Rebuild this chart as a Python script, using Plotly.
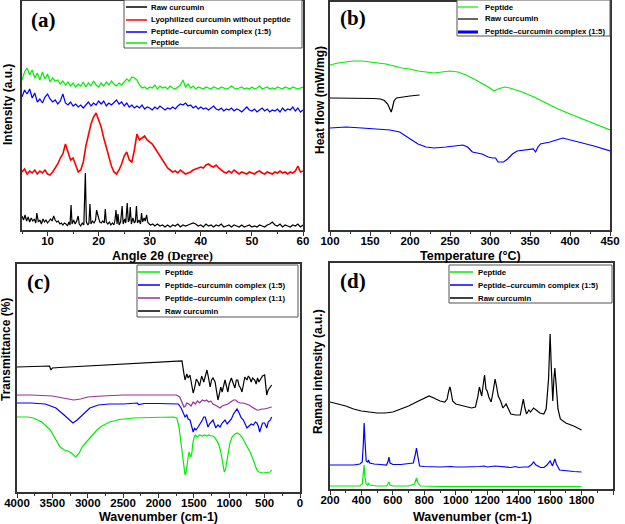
import plotly.graph_objects as go

W, H = 625, 524

# ---------------- (a) XRD ----------------
xrd_angle = [5 + 0.5 * i for i in range(111)]
xrd_peptide = [150,158,162,155,160,152,157,150,158,151,156,148,152,149,150,146,149,145,148,144,147,143,146,144,148,143,147,144,149,145,143,147,144,148,145,149,146,144,147,145,148,151,149,153,152,150,145,142,143,141,143,142,145,141,144,142,143,141,144,142,141,143,145,150,143,146,142,144,141,143,142,141,143,142,141,143,142,141,143,142,141,142,144,142,141,142,143,141,142,141,143,141,142,144,141,142,143,141,142,141,143,142,141,143,142,141,143,142,141,142,143]
xrd_complex = [133,140,136,141,132,137,128,131,127,133,136,131,128,130,126,129,136,127,125,128,124,126,123,125,122,125,128,124,127,125,129,126,129,124,127,125,128,130,126,128,124,127,123,125,122,124,122,125,121,123,122,120,123,121,124,122,120,122,121,123,121,124,126,125,127,124,125,122,124,121,123,121,122,120,122,124,121,120,122,119,121,120,122,119,121,120,118,121,123,120,119,121,118,120,122,119,121,118,120,119,121,118,122,119,121,120,123,119,122,118,120]
xrd_lyo = [58,61,56,59,57,60,56,59,57,60,56,55,58,62,66,72,76,86,78,70,72,64,58,60,68,84,96,106,113,117,110,103,92,82,72,64,58,56,60,66,74,78,70,68,80,96,90,92,94,90,88,86,82,78,74,70,66,62,60,58,59,57,60,58,56,57,58,60,61,62,63,62,65,66,64,63,65,62,60,58,57,59,57,60,58,56,58,57,56,58,57,56,58,59,57,56,58,57,56,58,57,59,57,58,56,58,57,59,64,58,59]
raw_angle = [5.0,5.3,5.6,5.9,6.2,6.5,6.8,7.1,7.4,7.7,7.9,8.2,8.5,8.8,9.1,9.4,9.7,10.0,10.3,10.6,10.9,11.2,11.5,11.8,12.1,12.4,12.7,13.0,13.3,13.6,13.9,14.2,14.4,14.6,14.8,15.1,15.4,15.7,16.0,16.2,16.5,16.8,17.1,17.4,17.6,17.9,18.1,18.3,18.5,18.8,19.1,19.4,19.6,19.9,20.2,20.5,20.8,21.1,21.3,21.5,21.8,22.1,22.4,22.7,23.0,23.2,23.4,23.6,23.8,24.0,24.3,24.6,24.8,25.1,25.3,25.6,25.8,26.0,26.2,26.4,26.7,27.0,27.2,27.4,27.6,27.9,28.2,28.4,28.6,28.9,29.1,29.4,29.6,29.9,30.2,30.6,31.0,31.5,32.0,32.5,33.0,33.5,34.0,34.5,35.0,35.5,36.0,36.5,37.0,37.5,38.0,38.5,39.0,39.5,40.0,40.5,41.0,41.5,42.0,42.5,43.0,43.5,44.0,44.5,45.0,45.5,46.0,46.5,47.0,47.5,48.0,48.5,49.0,49.5,50.0,50.5,51.0,51.5,52.0,52.5,53.0,53.5,54.0,54.5,55.0,55.5,56.0,56.5,57.0,57.5,58.0,58.5,59.0,59.5,60.0]
raw_xrd = [14,10,15,9,13,8,12,9,11,7,17,8,10,6,11,8,10,7,9,11,9,14,10,8,9,6,7,5,7,6,4,8,5,25,6,10,6,9,14,6,4,7,5,57,8,5,7,26,6,9,7,10,20,12,8,7,9,7,21,8,6,8,5,7,5,10,20,6,16,5,8,24,6,11,7,27,8,10,23,6,12,7,9,24,7,10,6,17,8,12,9,15,8,6,5,6,4,6,4,5,3,5,3,5,4,6,3,5,4,5,6,7,6,4,5,3,6,4,5,3,5,4,6,3,4,5,3,5,4,3,5,3,4,5,3,4,3,5,4,3,5,6,8,5,4,6,3,5,4,3,5,4,6,3,5]

# ---------------- (b) DSC ----------------
dsc_pep_t = [100,110,120,130,140,150,160,170,180,190,200,210,220,230,240,250,260,270,280,290,298,305,310,318,325,340,355,370,385,400,415,430,440,450]
dsc_pep = [165,167,168,169,169,168,167,166,164,162,161,159,158,157,158,159,158,155,151,147,143,139,141,143,142,138,133,127,121,116,111,106,103,100]
dsc_raw_t = [100,120,140,155,163,168,172,175,176.5,178,180,183,190,200,212]
dsc_raw = [132,132,132,131.5,131,129.5,126,120,118,122,129,132,133,134,135]
dsc_cx_t = [100,120,140,160,175,187,195,203,210,220,230,245,258,266,272,278,290,298,303,307,310,317,322,328,334,345,354,357,360,363,375,391,410,430,450]
dsc_cx = [102,103,102,101,100,98,94,90,86,83,82,83,84,85,83,78,76,73,72,72,68,68,71,76,79,80,81,78,83,86,88,92,88,84,79]

# ---------------- (c) FTIR ----------------
ftir_raw_w = [4000,3800,3600,3540,3520,3500,3400,3000,2500,2000,1700,1668,1640,1625,1600,1580,1555,1530,1510,1490,1465,1440,1420,1390,1360,1330,1315,1295,1270,1250,1230,1200,1180,1160,1140,1120,1100,1080,1060,1040,1020,1000,970,950,920,900,880,860,840,820,800,780,750,730,710,690,670,640,620,600,580,560,530,500,480,470,450,420,400]
ftir_raw = [125,125.5,126,126,122,124,124.5,126,128,130,131,131,118,112,118,114,117,106,99,104,113,110,106,116,110,118,122,115,105,112,114,110,100,92,98,105,100,108,112,106,100,108,114,110,104,112,112,106,104,100,108,115,112,116,114,110,114,112,108,114,110,112,116,117,104,97,102,105,107]
ftir_11_w = [4000,3800,3500,3350,3200,3100,3000,2800,2500,2000,1750,1700,1670,1640,1620,1600,1570,1540,1510,1480,1450,1420,1380,1350,1320,1290,1260,1230,1200,1160,1130,1100,1060,1020,980,940,910,880,840,800,760,720,680,640,610,580,540,500,450,400]
ftir_11 = [97,97,96,94,92,93,95,96,97,97,97,95,89,85,86,89,88,86,90,88,91,89,92,91,92,90,91,88,87,85,84,86,87,88,90,92,92,90,89,89,88,87,85,83,82,82,83,83,84,85]
ftir_15_w = [4000,3800,3600,3450,3350,3250,3210,3150,3050,2970,2850,2700,2500,2300,2280,2200,2000,1800,1720,1680,1650,1625,1600,1580,1555,1530,1510,1490,1470,1440,1410,1380,1360,1340,1320,1300,1280,1250,1230,1210,1190,1160,1130,1100,1080,1060,1030,1000,970,940,920,890,860,830,800,770,750,720,690,660,630,610,590,570,550,530,500,470,450,420,400]
ftir_15 = [89,89,88,84,78,72,69,72,79,84,87,88,88,89,87.5,88.5,88.5,88.5,88,84,79,75,77,73,72,66,60,64,62,65,68,72,75,75,70,65,68,71,72,68,64,67,65,69,71,72,68,70,73,78,80,83,79,74,72,67,64,66,68,67,70,69,66,60,65,69,69,64,70,72,75]
ftir_pep_w = [4000,3850,3770,3650,3530,3450,3390,3330,3280,3230,3170,3120,3080,3020,2970,2920,2870,2800,2690,2550,2360,2100,1900,1790,1740,1710,1680,1655,1640,1625,1610,1600,1585,1570,1555,1540,1525,1515,1495,1480,1450,1420,1380,1350,1320,1290,1260,1230,1200,1170,1150,1120,1100,1085,1070,1055,1040,1020,990,960,920,890,860,820,780,750,700,660,630,610,580,520,470,420,400]
ftir_pep = [75,75,74,70,62,52,45,42,41,39,35,39,45,50,54,58,62,66,70,72.5,74,74.5,75,75,74,65,48,32,22,17,20,26,36,40,37,35,41,49,55,57,55,57,56,57,56,57,56,56,54,50,48,40,32,24,20,22,29,38,49,55,58,59,58,55,50,45,39,32,26,22,20,19,19.5,20,22]

# ---------------- (d) Raman ----------------
ram_raw_w = [200,250,300,350,400,450,500,550,600,650,700,750,800,830,860,900,930,945,955,963,970,980,1000,1050,1100,1125,1140,1150,1158,1165,1175,1183,1192,1200,1210,1225,1238,1250,1260,1270,1285,1300,1320,1335,1350,1380,1410,1422,1430,1438,1450,1465,1475,1495,1510,1535,1560,1575,1590,1600,1608,1617,1624,1630,1638,1650,1665,1700,1750,1800]
ram_raw = [87,85,83,80,78,77,76,76,77,80,83,87,91,93,91,88,87,90,98,102,97,88,85,83,81,82,92,102,95,93,105,114,100,98,92,87,98,110,102,93,88,81,85,80,75,74,74,84,90,82,75,79,77,81,79,76,75,80,110,155,120,88,110,121,105,80,70,66,63,59]
ram_cx_w = [200,250,300,350,390,405,412,417,422,430,440,445,452,480,520,560,570,575,582,600,650,700,730,742,750,757,770,800,850,900,970,1000,1050,1100,1150,1180,1200,1250,1300,1350,1380,1400,1430,1460,1480,1495,1510,1540,1560,1580,1600,1610,1615,1630,1640,1660,1700,1750,1800]
ram_cx = [24,24,24.5,24,25,27,45,66,50,28,27,29,26,25,24.5,24,28,32,26,24.5,24.5,25,26,34,41,34,23,22.5,22,22,22.5,22,22,22,22.5,23,22,23,22,21.5,22.5,21.5,22,22,24,27,24,21.5,21.5,24,28,24,23,30,25,19,18,17.5,17]
ram_pep_w = [200,300,390,405,412,417,422,430,440,445,452,500,560,570,575,582,600,700,738,750,760,775,900,1200,1500,1800]
ram_pep = [3,3,3,5,15,24,12,5,4,6,4,3,3,5,7,4,3,3,5,11,6,3,2.5,2.5,2.5,2.5]

GREEN, RED, BLUE, BLACK, PURPLE = "#00ee00", "#ff0000", "#0000ff", "#000000", "#9a2f9a"

SANS = "Liberation Sans, Arial, sans-serif"
SERIF = "Liberation Serif, Times New Roman, serif"

fig = go.Figure()

def add(x, y, color, xa, ya, width=1.2):
    fig.add_trace(go.Scatter(x=x, y=y, mode="lines", line=dict(color=color, width=width),
                             xaxis=xa, yaxis=ya, showlegend=False, hoverinfo="skip"))

add(raw_angle, raw_xrd, BLACK, "x", "y")
add(xrd_angle, xrd_lyo, RED, "x", "y", 1.6)
add(xrd_angle, xrd_complex, BLUE, "x", "y")
add(xrd_angle, xrd_peptide, GREEN, "x", "y")

add(dsc_pep_t, dsc_pep, GREEN, "x2", "y2")
add(dsc_raw_t, dsc_raw, BLACK, "x2", "y2")
add(dsc_cx_t, dsc_cx, BLUE, "x2", "y2")

add(ftir_raw_w, ftir_raw, BLACK, "x3", "y3")
add(ftir_11_w, ftir_11, PURPLE, "x3", "y3")
add(ftir_15_w, ftir_15, BLUE, "x3", "y3")
add(ftir_pep_w, ftir_pep, GREEN, "x3", "y3")

add(ram_raw_w, ram_raw, BLACK, "x4", "y4")
add(ram_cx_w, ram_cx, BLUE, "x4", "y4")
add(ram_pep_w, ram_pep, GREEN, "x4", "y4")

def px2x(p):
    return p / W

def px2y(p):
    return 1 - p / H

panels = {
    "a": dict(x=(22, 303), y=(1, 230), xr=[5, 60], dt=10, minor=5, yr=[0, 229]),
    "b": dict(x=(330, 610), y=(2, 230), xr=[100, 450], dt=50, minor=25, yr=[0, 228]),
    "c": dict(x=(17, 300), y=(264, 492), xr=[4000, 0], dt=500, minor=250, yr=[0, 228]),
    "d": dict(x=(330, 613), y=(263, 489), xr=[200, 2000], dt=200, minor=100, yr=[0, 226]),
}
axline = "#333333"
for i, k in enumerate(["a", "b", "c", "d"]):
    p = panels[k]
    sfx = "" if i == 0 else str(i + 1)
    fig.layout["xaxis" + sfx] = dict(
        domain=[px2x(p["x"][0]), px2x(p["x"][1])], range=p["xr"], anchor="y" + sfx,
        automargin=False,
        showline=True, linecolor=axline, linewidth=1.5, mirror=True, showgrid=False, zeroline=False,
        ticks="outside", ticklen=4, tickwidth=1, tickcolor=axline, dtick=p["dt"], tick0=0,
        minor=dict(ticks="outside", ticklen=2, dtick=p["minor"], tickcolor=axline),
        ticklabelstandoff=-5,
        tickfont=dict(family=SANS, size=11.5, color="black", weight="bold"))
    fig.layout["yaxis" + sfx] = dict(
        domain=[px2y(p["y"][1]), px2y(p["y"][0])], range=p["yr"], anchor="x" + sfx,
        automargin=False,
        showline=True, linecolor=axline, linewidth=1.5, mirror=True, showgrid=False, zeroline=False,
        showticklabels=False, ticks="")

annotations = []
def txt(text, x, y, size, family=SANS, angle=0, xanchor="center", color="black"):
    annotations.append(dict(text=text, x=px2x(x), y=px2y(y), xref="paper", yref="paper",
                            showarrow=False, xanchor=xanchor, yanchor="middle", textangle=angle,
                            font=dict(family=family, size=size, color=color)))

# panel labels
txt("<b>(a)</b>", 43, 20, 21, SERIF)
txt("<b>(b)</b>", 353, 18, 21, SERIF)
txt("<b>(c)</b>", 38, 282, 21, SERIF)
txt("<b>(d)</b>", 353, 281, 21, SERIF)

# axis titles
txt("<b>Angle 2θ </b><span style='font-family:Liberation Serif'><b>(Degree)</b></span>", 163, 256, 12.5)
txt("<b>Intensity (a.u.)</b>", 8, 105, 12, angle=-90)
txt("<b>Temperature (°C)</b>", 470, 256, 12.5)
txt("<b>Heat flow (mW/mg)</b>", 320, 100, 12, angle=-90)
txt("<b>Wavenumber (cm-1)</b>", 158, 517, 12.5)
txt("<b>Transmittance (%)</b>", 6, 350, 12, angle=-90)
txt("<b>Wavenumber (cm-1)</b>", 472, 517, 12.5)
txt("<b>Raman intensity (a.u.)</b>", 318, 372, 12, angle=-90)

# legends drawn as boxes with line samples
shapes = []
legends = [
    dict(box=(124, 0, 302, 48), line=(126, 147), tx=149, ys=[7, 20, 32, 43],
         names=["Raw curcumin", "Lyophilized curcumin without peptide", "Peptide\u2013curcumin complex (1:5)", "Peptide"],
         colors=[BLACK, RED, BLUE, GREEN], widths=[1.5, 1.5, 1.5, 1.5]),
    dict(box=(457, 0, 610, 36), line=(458, 478), tx=483, ys=[7, 19, 32],
         names=["Peptide", "Raw curcumin", "Peptide\u2013curcumin complex (1:5)"],
         colors=[GREEN, BLACK, BLUE], widths=[1.2, 1.2, 3]),
    dict(box=(137, 265, 298, 317), line=(138, 160), tx=163, ys=[272, 285, 298, 311],
         names=["Peptide", "Peptide\u2013curcumin complex (1:5)", "Peptide\u2013curcumin complex (1:1)", "Raw curcumin"],
         colors=[GREEN, BLUE, PURPLE, BLACK], widths=[1.5, 1.5, 1.5, 1.5]),
    dict(box=(449, 265, 612, 303), line=(450, 473), tx=476, ys=[272, 285, 298],
         names=["Peptide", "Peptide\u2013curcumin complex (1:5)", "Raw curcumin"],
         colors=[GREEN, BLUE, BLACK], widths=[1.5, 1.5, 1.5]),
]
for lg in legends:
    x0, y0, x1, y1 = lg["box"]
    shapes.append(dict(type="rect", xref="paper", yref="paper", x0=px2x(x0), x1=px2x(x1),
                       y0=px2y(y1), y1=px2y(y0), line=dict(color="#555555", width=1),
                       fillcolor="white", layer="above"))
    for name, c, w, yy in zip(lg["names"], lg["colors"], lg["widths"], lg["ys"]):
        shapes.append(dict(type="line", xref="paper", yref="paper", x0=px2x(lg["line"][0]),
                           x1=px2x(lg["line"][1]), y0=px2y(yy), y1=px2y(yy),
                           line=dict(color=c, width=w), layer="above"))
        txt("<b>" + name + "</b>", lg["tx"], yy, 7.8, xanchor="left")

fig.update_layout(width=W, height=H, margin=dict(l=0, r=0, t=0, b=0),
                  paper_bgcolor="white", plot_bgcolor="white",
                  annotations=annotations, shapes=shapes, showlegend=False)

fig.write_html("out.html", config={"displayModeBar": False},
               post_script="document.body.style.margin='0';document.body.style.overflow='hidden';")
